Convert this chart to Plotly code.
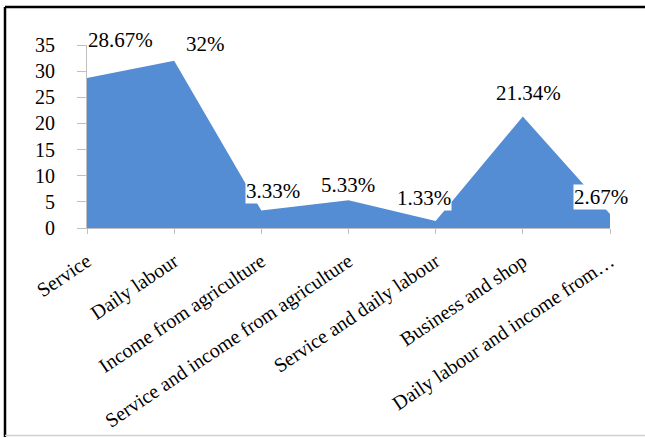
import plotly.graph_objects as go

categories = ["Service", "Daily labour", "Income from agriculture",
              "Service and income from agriculture", "Service and daily labour",
              "Business and shop", "Daily labour and income from…"]
values = [28.67, 32, 3.33, 5.33, 1.33, 21.34, 2.67]
value_labels = ["28.67%", "32%", "3.33%", "5.33%", "1.33%", "21.34%", "2.67%"]
y_ticks = [0, 5, 10, 15, 20, 25, 30, 35]

# label offsets (pixels) relative to each point
label_shift_x = [33, 31, 12, -1, -12, 6, -9]
label_shift_y = [38, 17, 20, 15, 23, 23, 17]

FONT = "Liberation Serif, Times New Roman, serif"
x_idx = list(range(len(categories)))

fig = go.Figure()
fig.add_trace(go.Scatter(
    x=x_idx, y=values, mode="lines", fill="tozeroy",
    line=dict(color="#548DD4", width=0), fillcolor="#548DD4",
    hoverinfo="skip", showlegend=False))

for i, (v, t) in enumerate(zip(values, value_labels)):
    fig.add_annotation(x=i, y=v, text=t, showarrow=False,
                       xshift=label_shift_x[i], yshift=label_shift_y[i],
                       bgcolor="white", borderpad=0,
                       font=dict(family=FONT, size=21, color="black"))

fig.update_xaxes(range=[0, len(categories) - 1], tickmode="array",
                 tickvals=x_idx, ticktext=categories, tickangle=-34,
                 showgrid=False, zeroline=False, showline=True,
                 linecolor="#BFBFBF", linewidth=1, ticks="outside",
                 ticklen=5, tickcolor="#BFBFBF", ticklabelstandoff=8,
                 automargin=False,
                 tickfont=dict(family=FONT, size=20, color="black"))
fig.update_yaxes(range=[0, 35], tickmode="array", tickvals=y_ticks,
                 showgrid=False, zeroline=False, showline=True,
                 linecolor="#BFBFBF", linewidth=1, ticks="outside",
                 ticklen=9, tickcolor="#BFBFBF", ticklabelstandoff=18,
                 automargin=False,
                 tickfont=dict(family=FONT, size=20, color="black"))

# outer frame
fig.add_shape(type="line", xref="paper", yref="paper",
              x0=(5 - 87) / 523, x1=(5 - 87) / 523,
              y0=(228 - 437) / 183, y1=(228 - 7) / 183,
              line=dict(color="black", width=2.5))
fig.add_shape(type="line", xref="paper", yref="paper",
              x0=(5 - 87) / 523, x1=(645 - 87) / 523,
              y0=(228 - 7) / 183, y1=(228 - 7) / 183,
              line=dict(color="black", width=2.5))
fig.add_shape(type="line", xref="paper", yref="paper",
              x0=(5 - 87) / 523, x1=(645 - 87) / 523,
              y0=(228 - 435.5) / 183, y1=(228 - 435.5) / 183,
              line=dict(color="#D0D0D0", width=1.5))

fig.update_layout(width=645, height=438, autosize=False,
                  margin=dict(l=87, r=35, t=45, b=210),
                  paper_bgcolor="white", plot_bgcolor="white",
                  showlegend=False)

fig.write_html("out.html")
